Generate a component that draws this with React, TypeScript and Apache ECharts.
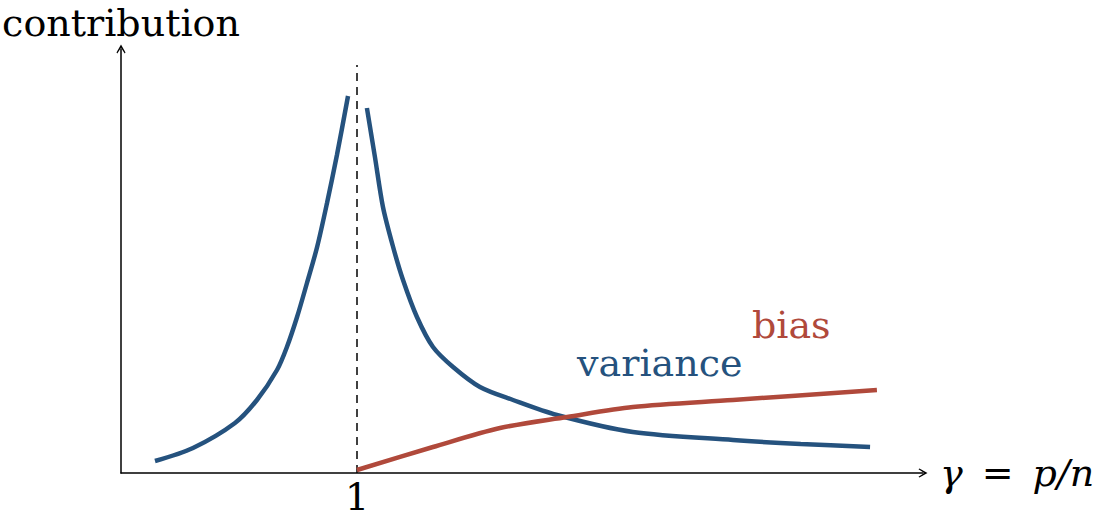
import React, { useEffect, useRef } from "react";
import * as echarts from "echarts";

// ---- data ----
const gammaLeft = [0.144, 0.305, 0.483, 0.576, 0.661, 0.703, 0.746, 0.788, 0.831, 0.873, 0.915, 0.962];
const varianceLeft = [0.12, 0.25, 0.5, 0.73, 1.03, 1.26, 1.56, 1.9, 2.26, 2.7, 3.18, 3.77];
const gammaRight = [1.042, 1.076, 1.11, 1.153, 1.195, 1.254, 1.322, 1.407, 1.521, 1.661, 1.847, 2.169, 2.593, 2.88, 3.174];
const varianceRight = [3.65, 3.16, 2.66, 2.26, 1.93, 1.56, 1.26, 1.06, 0.86, 0.73, 0.58, 0.41, 0.33, 0.29, 0.26];
const gammaBias = [1.0, 1.322, 1.606, 1.89, 2.169, 2.593, 3.203];
const biasValues = [0.03, 0.26, 0.45, 0.56, 0.66, 0.73, 0.83];
const thresholdGamma = 1;
const thresholdTop = 4.08;
const xTickLabels = [1];
const xAxisTitle = "γ\u2002=\u2002p/n";
const yAxisTitle = "contribution";
const varianceLabel = "variance";
const biasLabel = "bias";
const varianceLabelAt = [2.283, 1.1];
const biasLabelAt = [2.84, 1.48];

const BLUE = "#25527e";
const RED = "#b0493b";
const FONT = "DejaVu Serif";
const FS = 38;
const ARROW = "path://M5,0 L10,9 L9.1,10 L5,3.6 L0.9,10 L0,9 Z";

const zip = (xs: number[], ys: number[]) => xs.map((x, i) => [x, ys[i]]);

const textMark = (text: string, at: number[], color: string) => ({
  symbol: "circle",
  symbolSize: 0,
  silent: true,
  label: {
    show: true,
    position: "inside",
    formatter: text,
    color,
    fontFamily: FONT,
    fontSize: FS,
    lineHeight: FS,
    align: "center",
    verticalAlign: "middle",
  },
  data: [{ coord: at, value: 0 }],
});

export default function App() {
  const ref = useRef<HTMLDivElement>(null);
  useEffect(() => {
    if (!ref.current) return;
    const chart = echarts.init(ref.current, undefined, { renderer: "svg" });
    const gridLeft = 121;
    const gridBottomPx = 473;
    const unitX = 236;
    const unitY = 100;
    const gridWidth = 802;
    const gridTop = 49;
    const gridHeight = gridBottomPx - gridTop;
    const curve = { smooth: 0.3, showSymbol: false };
    chart.setOption({
      animation: false,
      backgroundColor: "#ffffff",
      grid: {
        left: gridLeft,
        top: gridTop,
        width: gridWidth,
        height: gridHeight,
        containLabel: false,
        outerBoundsMode: "none",
      },
      xAxis: {
        type: "value",
        min: 0,
        max: gridWidth / unitX,
        interval: 1,
        splitLine: { show: false },
        axisTick: { show: false },
        axisLine: {
          onZero: false,
          symbol: ["none", ARROW],
          symbolSize: [10, 9],
          lineStyle: { color: "#000", width: 1.5 },
        },
        axisLabel: {
          customValues: xTickLabels,
          formatter: (v: number) => (xTickLabels.includes(v) ? String(v) : ""),
          showMinLabel: false,
          showMaxLabel: false,
          color: "#000",
          fontFamily: FONT,
          fontSize: FS,
          lineHeight: FS,
          margin: 5,
        },
        name: xAxisTitle,
        nameLocation: "end",
        nameGap: 17,
        nameTextStyle: {
          color: "#000",
          fontFamily: FONT,
          fontStyle: "italic",
          fontSize: FS,
          lineHeight: FS,
          align: "left",
          verticalAlign: "middle",
        },
      },
      yAxis: {
        type: "value",
        min: 0,
        max: gridHeight / unitY,
        splitLine: { show: false },
        axisTick: { show: false },
        axisLabel: { show: false },
        axisLine: {
          onZero: false,
          symbol: ["none", ARROW],
          symbolSize: [10, 9],
          lineStyle: { color: "#000", width: 1.5 },
        },
        name: yAxisTitle,
        nameLocation: "end",
        nameGap: 7,
        nameTextStyle: {
          color: "#000",
          fontFamily: FONT,
          fontSize: FS,
          lineHeight: FS,
          align: "center",
          verticalAlign: "bottom",
        },
      },
      series: [
        {
          name: "threshold",
          type: "line",
          data: [
            [thresholdGamma, 0],
            [thresholdGamma, thresholdTop],
          ],
          showSymbol: false,
          silent: true,
          lineStyle: { color: "#000", width: 1.5, type: [8, 6] },
          z: 1,
        },
        {
          name: "variance",
          type: "line",
          data: zip(gammaLeft, varianceLeft),
          ...curve,
          lineStyle: { color: BLUE, width: 4.5, cap: "butt" },
          z: 3,
        },
        {
          name: "variance",
          type: "line",
          data: zip(gammaRight, varianceRight),
          ...curve,
          lineStyle: { color: BLUE, width: 4.5, cap: "butt" },
          markPoint: textMark(varianceLabel, varianceLabelAt, BLUE),
          z: 3,
        },
        {
          name: "bias",
          type: "line",
          data: zip(gammaBias, biasValues),
          ...curve,
          lineStyle: { color: RED, width: 4.5, cap: "butt" },
          markPoint: textMark(biasLabel, biasLabelAt, RED),
          z: 4,
        },
      ],
    });
    return () => chart.dispose();
  }, []);
  return (
    <div
      ref={ref}
      style={{ position: "fixed", left: 0, top: 0, width: 1099, height: 519, background: "#fff" }}
    />
  );
}
